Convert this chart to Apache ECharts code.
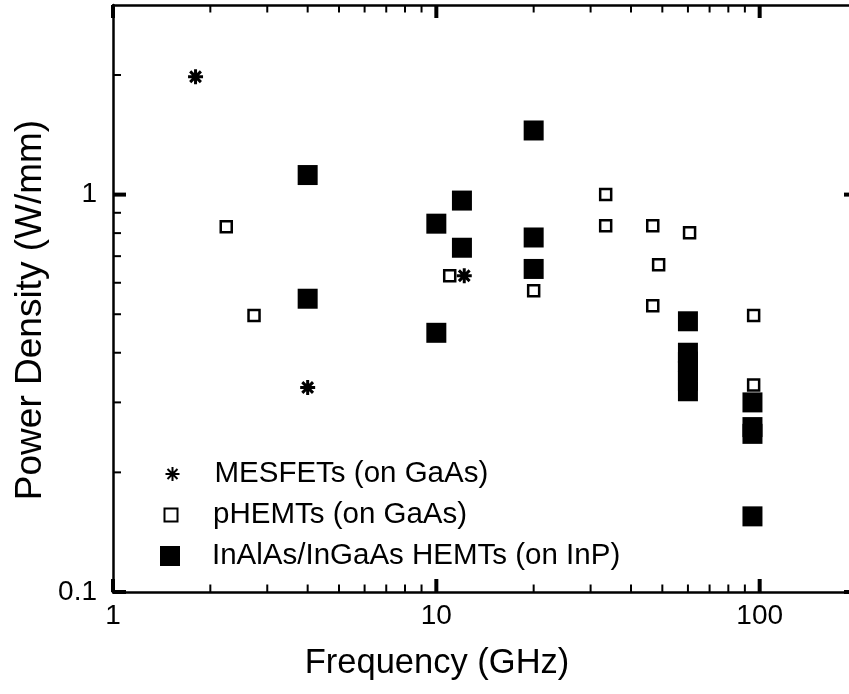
<!DOCTYPE html>
<html><head><meta charset="utf-8">
<script src="https://cdn.jsdelivr.net/npm/echarts@6/dist/echarts.min.js"></script>
<style>html,body{margin:0;padding:0;background:#fff}#c{width:849px;height:694px}</style>
</head><body><div id="c"></div>
<script>
const xRange = [1, 200];
const yRange = [0.1, 3];
const xMajorTicks = [1, 10, 100];
const yMajorTicks = [0.1, 1];
const xMinorTicks = [2, 3, 4, 5, 6, 7, 8, 9, 20, 30, 40, 50, 60, 70, 80, 90];
const yMinorTicks = [0.2, 0.3, 0.4, 0.5, 0.6, 0.7, 0.8, 0.9, 2];
const seriesNames = ['MESFETs (on GaAs)', 'pHEMTs (on GaAs)', 'InAlAs/InGaAs HEMTs (on InP)'];
const mesfetFreq = [1.8, 4, 12.2];
const mesfetPower = [1.98, 0.327, 0.625];
const phemtFreq = [2.24, 2.73, 11, 20, 33.4, 33.4, 46.7, 48.7, 46.7, 60.7, 95.8, 95.8];
const phemtPower = [0.83, 0.496, 0.625, 0.573, 1.0, 0.835, 0.835, 0.666, 0.525, 0.802, 0.496, 0.332];
const hemtFreq = [4, 4, 10, 10, 12, 12, 20, 20, 20, 60, 60, 60, 60, 60, 60, 95, 95, 95, 95];
const hemtPower = [1.12, 0.547, 0.845, 0.449, 0.966, 0.735, 1.45, 0.78, 0.65, 0.48, 0.40, 0.38, 0.36, 0.34, 0.32, 0.30, 0.26, 0.25, 0.155];
const xTitle = 'Frequency (GHz)';
const yTitle = 'Power Density (W/mm)';

const FONT = '"Liberation Sans", Arial, Helvetica, sans-serif';
const zip = (a, b) => a.map((v, i) => [v, b[i]]);
const asterisk = 'path://M7,0L7,14M0,7L14,7M2,2L12,12M2,12L12,2';

const chart = echarts.init(document.getElementById('c'), null, {renderer: 'canvas'});

function axisBase(pos, isX, showLabel) {
  return {
    type: 'log', logBase: 10, position: pos,
    min: isX ? xRange[0] : yRange[0], max: isX ? xRange[1] : yRange[1],
    axisLine: {show: true, onZero: false, lineStyle: {color: '#000', width: 2.5}},
    axisTick: {show: false},
    minorTick: {show: false},
    splitLine: {show: false},
    axisLabel: {
      show: showLabel, showMaxLabel: false, color: '#000',
      fontFamily: FONT, fontSize: 28, margin: isX ? 10 : 16
    }
  };
}

function legendFor(name, size, cy) {
  return {
    data: [name], orient: 'vertical', padding: 0,
    left: 170 - size / 2, top: cy - 14,
    itemWidth: size, itemHeight: size,
    selectedMode: false,
    textStyle: {fontFamily: FONT, fontSize: 29.5, color: '#000', padding: [0, 0, 0, 207 - (170 + size / 2)]}
  };
}

const MAJOR_LEN = 13, MINOR_LEN = 7.5;

function tickLines(isX, values, len, width) {
  return {
    type: 'custom', silent: true, z: 10, zlevel: 1, clip: false,
    data: values.map(v => isX ? [v, yRange[0]] : [xRange[0], v]),
    renderItem: function (params, api) {
      const v = api.value(isX ? 0 : 1);
      const st = {stroke: '#000', lineWidth: width};
      if (isX) {
        const b = api.coord([v, yRange[0]]);
        const t = api.coord([v, yRange[1]]);
        return {type: 'group', children: [
          {type: 'line', shape: {x1: b[0], y1: b[1], x2: b[0], y2: b[1] - len}, style: st},
          {type: 'line', shape: {x1: t[0], y1: t[1], x2: t[0], y2: t[1] + len}, style: st}
        ]};
      }
      const l = api.coord([xRange[0], v]);
      const r = api.coord([xRange[1], v]);
      return {type: 'group', children: [
        {type: 'line', shape: {x1: l[0], y1: l[1], x2: l[0] + len, y2: l[1]}, style: st},
        {type: 'line', shape: {x1: r[0], y1: r[1], x2: r[0] - len, y2: r[1]}, style: st}
      ]};
    }
  };
}

const option = {
  backgroundColor: '#fff',
  animation: false,
  grid: {left: 113, right: -8, top: 5, bottom: 102, containLabel: false, outerBoundsMode: 'none'},
  xAxis: [axisBase('bottom', true, true), axisBase('top', true, false)],
  yAxis: [axisBase('left', false, true), axisBase('right', false, false)],
  legend: [
    legendFor(seriesNames[0], 14, 473),
    legendFor(seriesNames[1], 13, 514),
    legendFor(seriesNames[2], 20, 555)
  ],
  graphic: [
    {type: 'text', x: 437, y: 663, style: {text: xTitle, font: '34.5px ' + FONT, fill: '#000', textAlign: 'center', textVerticalAlign: 'middle'}},
    {type: 'text', x: 31, y: 310, rotation: Math.PI / 2, style: {text: yTitle, font: '37px ' + FONT, fill: '#000', textAlign: 'center', textVerticalAlign: 'middle'}}
  ],
  series: [
    tickLines(true, xMinorTicks, MINOR_LEN, 2),
    tickLines(true, xMajorTicks, MAJOR_LEN, 4),
    tickLines(false, yMinorTicks, MINOR_LEN + 0.5, 2),
    tickLines(false, yMajorTicks, MAJOR_LEN, 4),
    {
      type: 'scatter', name: seriesNames[1], z: 3,
      data: zip(phemtFreq, phemtPower),
      symbol: 'rect', symbolSize: 11,
      itemStyle: {color: '#fff', borderColor: '#000', borderWidth: 2.5, opacity: 1}
    },
    {
      type: 'scatter', name: seriesNames[0], z: 4,
      data: zip(mesfetFreq, mesfetPower),
      symbol: asterisk, symbolSize: 15,
      itemStyle: {color: 'none', borderColor: '#000', borderWidth: 3, opacity: 1}
    },
    {
      type: 'scatter', name: seriesNames[2], z: 5,
      data: zip(hemtFreq, hemtPower),
      symbol: 'rect', symbolSize: 20,
      itemStyle: {color: '#000', opacity: 1}
    }
  ]
};
chart.setOption(option);
</script>
</body></html>
